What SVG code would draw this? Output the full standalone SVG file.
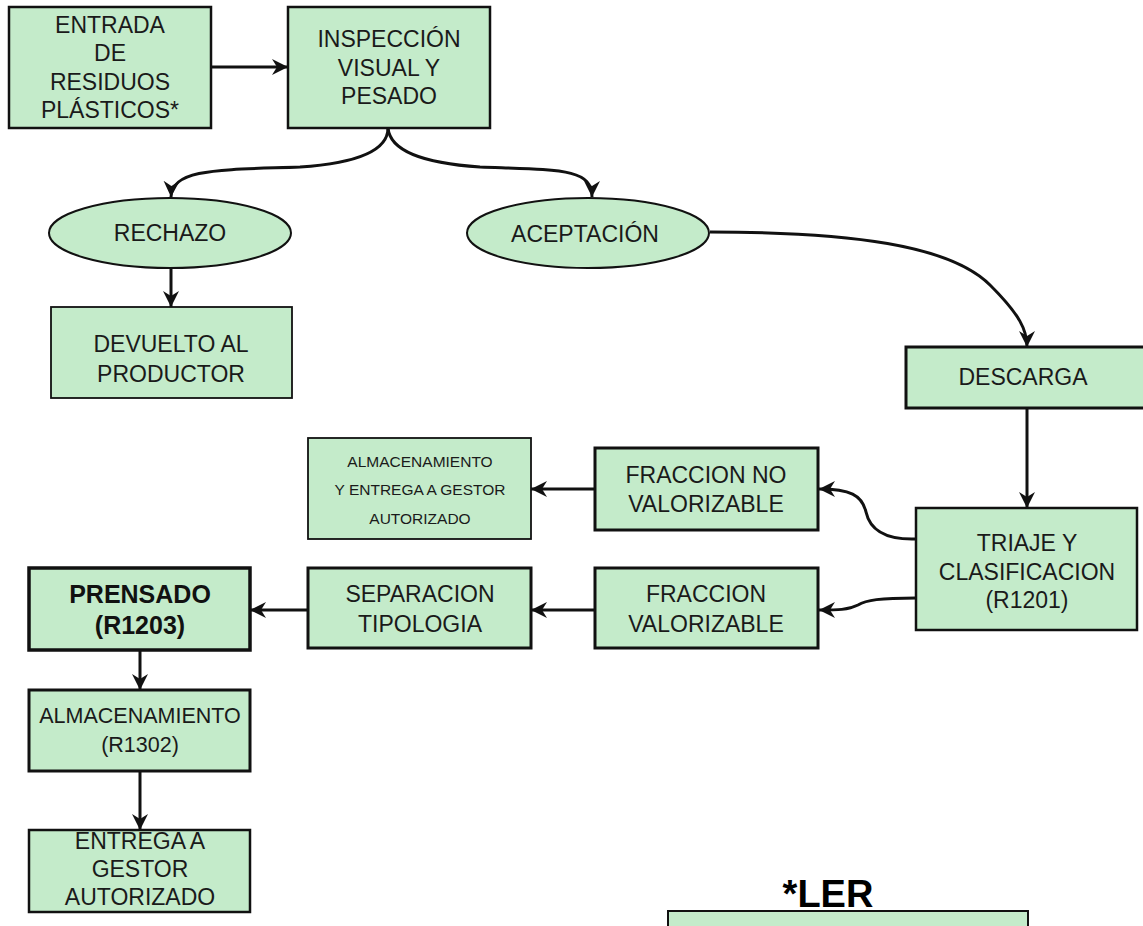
<svg xmlns="http://www.w3.org/2000/svg" width="1143" height="926" viewBox="0 0 1143 926">
<style>
.box{fill:#c4ebca;stroke:#111;stroke-width:3}
.thin{stroke-width:1.8}
.t{font-family:"Liberation Sans",Arial,sans-serif;font-size:23px;fill:#1a1a1a;text-anchor:middle}
.s{font-size:15.5px}
.m{font-size:21.5px}
.b{font-weight:bold;font-size:25px;fill:#111}
.c{fill:none;stroke:#111;stroke-width:3}
</style>
<defs>
<marker id="ah" markerUnits="userSpaceOnUse" markerWidth="18" markerHeight="18" refX="16" refY="8" orient="auto" viewBox="0 0 18 16">
<path d="M0,0 L16,8 L0,16 L5,8 z" fill="#111"/>
</marker>
</defs>
<rect width="1143" height="926" fill="#fff"/>
<g id="connectors">
<path class="c" marker-end="url(#ah)" d="M211,67 L288,67"/>
<path class="c" marker-end="url(#ah)" d="M388,128 C388,150 360,163 300,167 C220,170 172,168 171,197"/>
<path class="c" marker-end="url(#ah)" d="M388,128 C390,150 420,163 480,167 C560,170 592,168 592,197"/>
<path class="c" marker-end="url(#ah)" d="M171,268 L171,307"/>
<path class="c" marker-end="url(#ah)" d="M710,232 C850,232 950,245 990,285 C1020,315 1027,330 1027,347"/>
<path class="c" marker-end="url(#ah)" d="M1027,408 L1027,508"/>
<path class="c" marker-end="url(#ah)" d="M916,539 C885,540 870,530 866,512 C862,495 850,489 819,489"/>
<path class="c" marker-end="url(#ah)" d="M916,598 C880,598 866,600 858,605 C848,610 838,610 819,610"/>
<path class="c" marker-end="url(#ah)" d="M595,489 L531,489"/>
<path class="c" marker-end="url(#ah)" d="M595,610 L531,610"/>
<path class="c" marker-end="url(#ah)" d="M308,610 L250,610"/>
<path class="c" marker-end="url(#ah)" d="M140,650 L140,690"/>
<path class="c" marker-end="url(#ah)" d="M140,771 L140,830"/>
</g>
<g id="entrada">
<rect class="box" x="9" y="7" width="202" height="121" style="stroke-width:2.5"/>
<text class="t" x="110" y="33">ENTRADA</text>
<text class="t" x="110" y="61">DE</text>
<text class="t" x="110" y="90">RESIDUOS</text>
<text class="t" x="110" y="118">PLÁSTICOS*</text>
</g>
<g id="inspeccion">
<rect class="box" x="288" y="7" width="202" height="121" style="stroke-width:2.5"/>
<text class="t" x="389" y="47">INSPECCIÓN</text>
<text class="t" x="389" y="76">VISUAL Y</text>
<text class="t" x="389" y="104">PESADO</text>
</g>
<g id="rechazo">
<ellipse class="box" cx="170" cy="233" rx="121" ry="35" style="stroke-width:2"/>
<text class="t" x="170" y="241">RECHAZO</text>
</g>
<g id="aceptacion">
<ellipse class="box" cx="588" cy="233" rx="121" ry="35" style="stroke-width:2"/>
<text class="t" x="585" y="242">ACEPTACIÓN</text>
</g>
<g id="devuelto">
<rect class="box thin" x="51" y="307" width="241" height="91"/>
<text class="t" x="171" y="352">DEVUELTO AL</text>
<text class="t" x="171" y="382">PRODUCTOR</text>
</g>
<g id="descarga">
<rect class="box" x="906" y="347" width="245" height="61"/>
<text class="t" x="1023" y="385">DESCARGA</text>
</g>
<g id="triaje">
<rect class="box" x="916" y="508" width="221" height="122" style="stroke-width:2.5"/>
<text class="t" x="1027" y="551">TRIAJE Y</text>
<text class="t" x="1027" y="580">CLASIFICACION</text>
<text class="t" x="1027" y="608">(R1201)</text>
</g>
<g id="fraccion-no">
<rect class="box" x="595" y="448" width="223" height="82"/>
<text class="t" x="706" y="483">FRACCION NO</text>
<text class="t" x="706" y="512">VALORIZABLE</text>
</g>
<g id="almacenamiento-entrega">
<rect class="box thin" x="308" y="438" width="223" height="101"/>
<text class="t s" x="420" y="467">ALMACENAMIENTO</text>
<text class="t s" x="420" y="495">Y ENTREGA A GESTOR</text>
<text class="t s" x="420" y="524">AUTORIZADO</text>
</g>
<g id="fraccion-val">
<rect class="box" x="595" y="568" width="223" height="80"/>
<text class="t" x="706" y="602">FRACCION</text>
<text class="t" x="706" y="632">VALORIZABLE</text>
</g>
<g id="separacion">
<rect class="box" x="308" y="568" width="223" height="80"/>
<text class="t" x="420" y="602">SEPARACION</text>
<text class="t" x="420" y="632">TIPOLOGIA</text>
</g>
<g id="prensado">
<rect class="box" x="29" y="568" width="221" height="82" style="stroke-width:3.5"/>
<text class="t b" x="140" y="603">PRENSADO</text>
<text class="t b" x="140" y="634">(R1203)</text>
</g>
<g id="almacenamiento">
<rect class="box" x="29" y="690" width="221" height="81"/>
<text class="t m" x="140" y="723">ALMACENAMIENTO</text>
<text class="t m" x="140" y="752">(R1302)</text>
</g>
<g id="entrega">
<rect class="box" x="29" y="830" width="221" height="82" style="stroke-width:2.5"/>
<text class="t" x="140" y="849">ENTREGA A</text>
<text class="t" x="140" y="877">GESTOR</text>
<text class="t" x="140" y="905">AUTORIZADO</text>
</g>
<g id="ler">
<text x="828" y="907" style="font-family:'Liberation Sans',Arial,sans-serif;font-weight:bold;font-size:38px;fill:#000;text-anchor:middle">*LER</text>
<rect class="box" x="668" y="911" width="360" height="30" style="stroke-width:2"/>
</g>
</svg>
